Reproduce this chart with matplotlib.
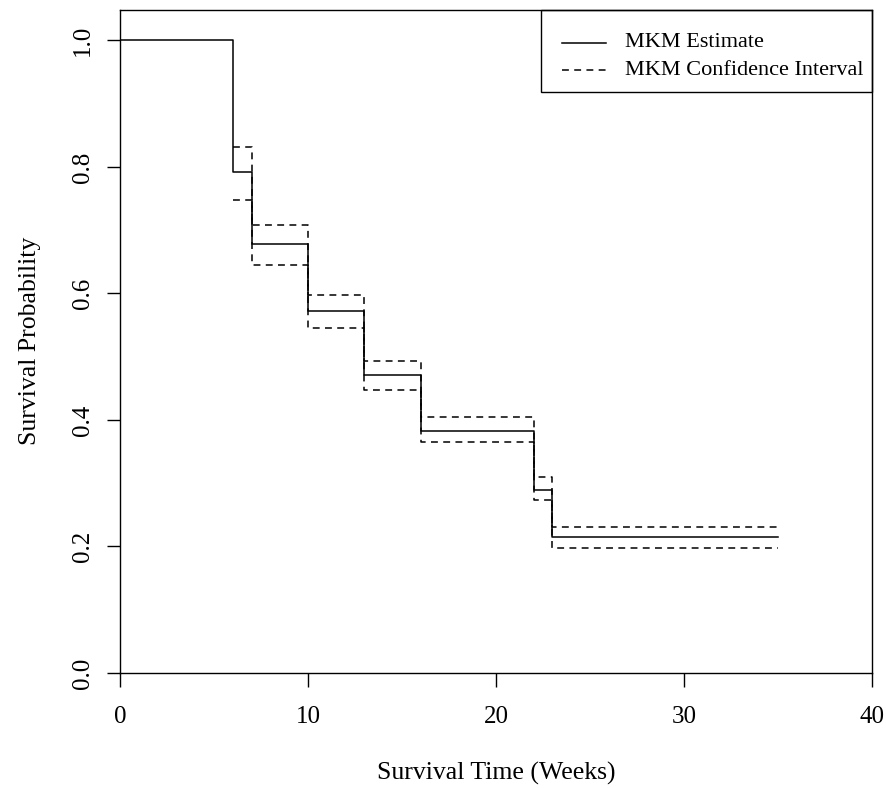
import matplotlib
matplotlib.use("Agg")
import matplotlib.pyplot as plt
from matplotlib.lines import Line2D
from matplotlib.patches import Rectangle

times = [0, 6, 7, 10, 13, 16, 22, 23]
end_time = 35
estimate = [1.0, 0.792, 0.678, 0.572, 0.471, 0.383, 0.290, 0.215]
ci_times = [6, 7, 10, 13, 16, 22, 23]
ci_upper = [0.832, 0.708, 0.597, 0.494, 0.405, 0.310, 0.231]
ci_lower = [0.748, 0.645, 0.546, 0.448, 0.365, 0.274, 0.198]
xticks = [0, 10, 20, 30, 40]
yticks = [0.0, 0.2, 0.4, 0.6, 0.8, 1.0]
legend_labels = ["MKM Estimate", "MKM Confidence Interval"]

plt.rcParams['font.family'] = ['Liberation Serif', 'DejaVu Serif']

W, H = 886, 788
L, R, B, T = 120, 872, 673, 9.5
fig = plt.figure(figsize=(W/100, H/100), dpi=100)
ax = fig.add_axes([L/W, 1-B/H, (R-L)/W, (B-T)/H])

def ax_x(px):
    return (px - L) / (R - L)

def ax_y(py):
    return (B - py) / (B - T)

lw = 1.1
dash = (4.5, 3.5)
ax.step(times + [end_time], estimate + [estimate[-1]], where='post', color='black', lw=lw)
ax.step(ci_times + [end_time], ci_upper + [ci_upper[-1]], where='post', color='black', lw=lw,
        linestyle=(0, dash))
ax.step(ci_times + [end_time], ci_lower + [ci_lower[-1]], where='post', color='black', lw=lw,
        linestyle=(0, dash))

ax.set_xlim(0, 40)
ax.set_ylim(0, 1.049)
ax.set_xticks(xticks)
ax.set_xticklabels([str(t) for t in xticks])
ax.set_yticks(yticks)
ax.set_yticklabels([f"{t:.1f}" for t in yticks], rotation=90, va='center')
ax.tick_params(axis='x', direction='out', length=10, width=1.0, labelsize=18, pad=13.5, color='black')
ax.tick_params(axis='y', direction='out', length=9.5, width=1.0, labelsize=18, pad=9, color='black')
for s in ax.spines.values():
    s.set_linewidth(1.0)

ax.set_xlabel("Survival Time (Weeks)", fontsize=18.5, va='center')
ax.xaxis.set_label_coords(0.5, ax_y(773))
ax.set_ylabel("Survival Probability", fontsize=18.5, va='center')
ax.yaxis.set_label_coords(ax_x(30), 0.5)

# legend (R-style box)
ax.add_patch(Rectangle((ax_x(541), ax_y(92)), 1 - ax_x(541), ax_y(T) - ax_y(92),
                       transform=ax.transAxes, fill=False, edgecolor='black', lw=1.0,
                       clip_on=False, zorder=5))
styles = ['-', (0, dash)]
line_y = [42.5, 70]
base_y = [46.5, 75]
for lab, st, ly, by in zip(legend_labels, styles, line_y, base_y):
    ax.add_line(Line2D([ax_x(562), ax_x(606)], [ax_y(ly), ax_y(ly)], transform=ax.transAxes,
                       color='black', lw=lw, linestyle=st, clip_on=False))
    ax.text(ax_x(625), ax_y(by), lab, transform=ax.transAxes, fontsize=16, va='baseline', ha='left')

fig.savefig("out.png", dpi=100)
